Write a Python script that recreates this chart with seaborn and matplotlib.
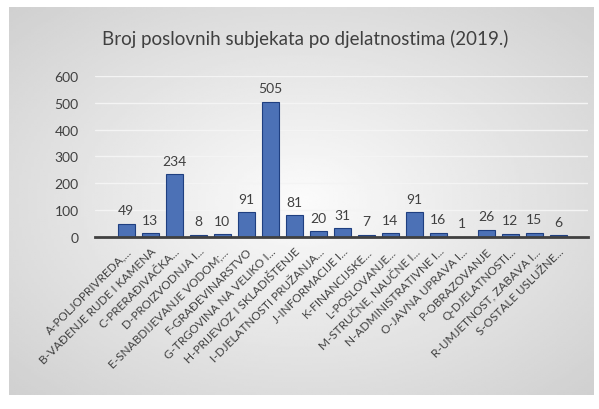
import numpy as np
import pandas as pd
import matplotlib
matplotlib.use('Agg')
import matplotlib.pyplot as plt
import seaborn as sns

# Podaci
djelatnosti = [
    'A-POLJOPRIVREDA,...', 'B-VAĐENJE RUDE I KAMENA', 'C-PRERAĐIVAČKA...',
    'D-PROIZVODNJA I...', 'E-SNABDIJEVANJE VODOM;...', 'F-GRAĐEVINARSTVO',
    'G-TRGOVINA NA VELIKO I...', 'H-PRIJEVOZ I SKLADIŠTENJE', 'I-DJELATNOSTI PRUŽANJA...',
    'J-INFORMACIJE I...', 'K-FINANCIJSKE...', 'L-POSLOVANJE...',
    'M-STRUČNE, NAUČNE I...', 'N-ADMINISTRATIVNE I...', 'O-JAVNA UPRAVA I...',
    'P-OBRAZOVANJE', 'Q-DJELATNOSTI...', 'R-UMJETNOST, ZABAVA I...', 'S-OSTALE USLUŽNE...',
]
broj_subjekata = [49, 13, 234, 8, 10, 91, 505, 81, 20, 31, 7, 14, 91, 16, 1, 26, 12, 15, 6]
y_ticks = [0, 100, 200, 300, 400, 500, 600]

df = pd.DataFrame({'djelatnost': djelatnosti, 'broj': broj_subjekata})

sns.set_theme(style='white')
plt.rcParams['font.family'] = ['Lato', 'DejaVu Sans']

fig = plt.figure(figsize=(5.99, 4.10), dpi=100)
fig.patch.set_facecolor('white')

# Pozadina s gradijentom (svijetlo sivo)
bg = fig.add_axes([0.015, 0.035, 0.975, 0.945], zorder=0)
xx, yy = np.meshgrid(np.linspace(-1, 1, 200), np.linspace(-1, 1, 200))
grad = np.sqrt(xx ** 2 + yy ** 2) / np.sqrt(2)
bg.imshow(0.985 - 0.17 * grad, cmap='gray', vmin=0, vmax=1, aspect='auto', extent=[0, 1, 0, 1])
bg.axis('off')

ax = fig.add_axes([0.159, 0.42, 0.823, 0.392], zorder=1)
ax.patch.set_alpha(0)

sns.barplot(data=df, x='djelatnost', y='broj', color='#3a6cc8', edgecolor='#1f3f80',
            linewidth=0.8, width=0.7, ax=ax)

for i, v in enumerate(broj_subjekata):
    ax.text(i, v + 28, str(v), ha='center', va='bottom', fontsize=10, color='#404040')

ax.set_xlim(-1.29, 19.25)
ax.set_ylim(0, 600)
ax.set_yticks(y_ticks)
ax.yaxis.grid(True, color='#f4f4f4', linewidth=1)
ax.set_axisbelow(True)
for s in ['top', 'right', 'left']:
    ax.spines[s].set_visible(False)
ax.spines['bottom'].set_color('#404040')
ax.spines['bottom'].set_linewidth(2)

ax.set_xlabel('')
ax.set_ylabel('')
ax.tick_params(axis='y', labelsize=10, labelcolor='#404040', length=0, pad=12)
ax.tick_params(axis='x', labelsize=8.5, labelcolor='#404040', length=0, pad=6)
plt.setp(ax.get_xticklabels(), rotation=45, ha='right', rotation_mode='anchor')

fig.text(0.51, 0.905, 'Broj poslovnih subjekata po djelatnostima (2019.)',
         ha='center', va='center', fontsize=13.5, color='#404040')

fig.savefig('out.png', dpi=100)
